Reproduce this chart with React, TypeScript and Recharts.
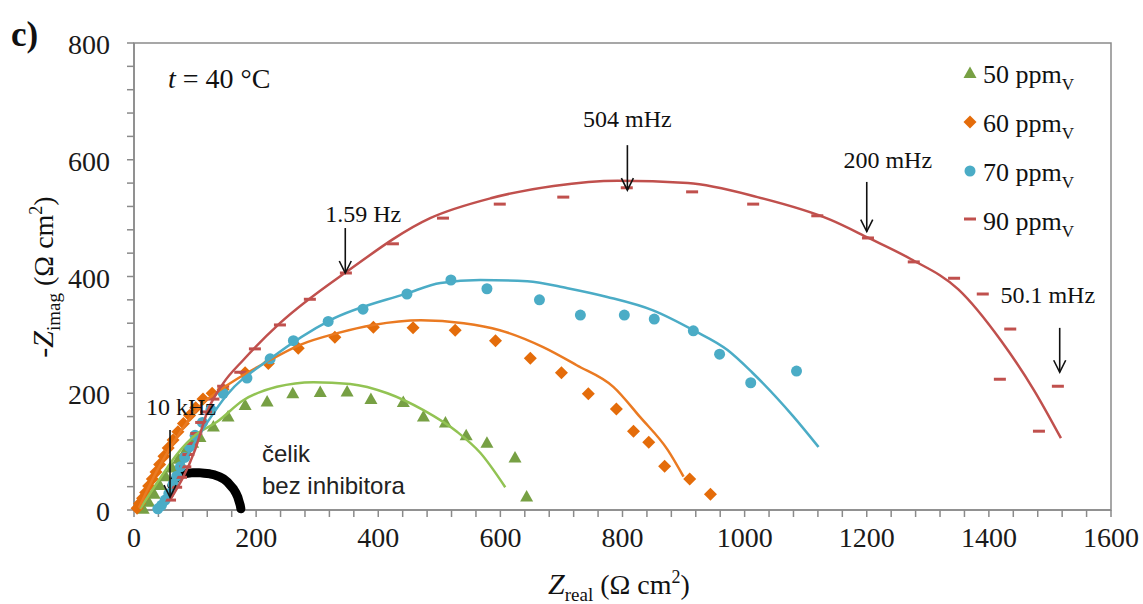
import React from 'react';
import { ScatterChart, Scatter, XAxis, YAxis, ReferenceArea, ReferenceLine } from 'recharts';

// tick labels
const xTickLabels = [0, 200, 400, 600, 800, 1000, 1200, 1400, 1600];
const yTickLabels = [0, 200, 400, 600, 800];

// measured points [Zreal, -Zimag]
const ppm50Points = [
  [15, 2], [24, 14], [33, 28], [42, 43], [52, 58], [62, 73], [73, 88], [85, 103], [96, 115], [108, 125],
  [130, 143], [154, 160], [182, 180], [218, 186], [260, 200], [305, 202], [349, 203], [388, 190], [441, 185],
  [474, 160], [510, 150], [544, 128], [578, 115], [624, 90], [643, 23],
];
const ppm60Points = [
  [5, 3], [9, 11], [14, 20], [19, 30], [24, 41], [30, 53], [36, 65], [42, 78], [49, 92], [56, 106], [64, 120],
  [72, 134], [81, 148], [91, 162], [101, 175], [113, 190], [128, 200], [146, 207], [182, 235], [220, 251],
  [269, 277], [329, 296], [392, 313], [457, 312], [526, 308], [592, 290], [649, 260], [700, 235], [744, 199],
  [790, 173], [818, 135], [843, 116], [869, 75], [910, 53], [944, 27],
];
const ppm70Points = [
  [39, 2], [45, 8], [51, 17], [57, 28], [64, 44], [70, 58], [76, 74], [83, 90], [91, 108], [100, 128],
  [112, 150], [126, 172], [146, 200], [185, 226], [223, 259], [261, 290], [318, 323], [375, 344], [447, 370],
  [519, 394], [578, 379], [664, 360], [731, 334], [803, 334], [852, 327], [916, 307], [959, 267], [1010, 218],
  [1085, 238],
];
const ppm90Points = [
  [59, 17], [69, 39], [77, 56], [84, 74], [89, 95], [95, 114], [102, 131], [110, 150], [118, 168], [130, 190],
  [146, 212], [174, 236], [198, 276], [239, 317], [288, 361], [347, 406], [424, 456], [506, 500], [599, 524],
  [703, 536], [807, 552], [914, 545], [1014, 524], [1119, 504], [1202, 466], [1277, 425], [1343, 397],
  [1390, 370], [1435, 310], [1418, 224], [1513, 212], [1482, 135],
];
const steelPoints = [
  [62, 42], [65, 49], [69, 55], [74, 59], [80, 62], [88, 63], [97, 64], [106, 64], [115, 63],
  [124, 62], [132, 60], [140, 57], [147, 53], [153, 48], [158, 42], [163, 36], [167, 29], [170, 22],
  [172, 15], [174, 8], [175, 2],
];

// fitted curves
const ppm50Fit = [
  [10, 2], [40, 50], [70, 95], [100, 128], [136, 151], [179, 188], [234, 211], [294, 219], [354, 216],
  [415, 200], [474, 171], [529, 134], [567, 98], [608, 39],
];
const ppm60Fit = [
  [8, 4], [40, 72], [80, 140], [110, 180], [146, 209], [218, 254], [272, 283], [333, 303], [392, 317],
  [470, 325], [540, 320], [599, 308], [670, 279], [725, 248], [785, 211], [829, 159], [874, 103], [900, 57],
];
const ppm70Fit = [
  [43, 2], [80, 80], [120, 150], [152, 197], [223, 259], [321, 325], [447, 371], [502, 389], [567, 394],
  [644, 392], [710, 380], [775, 365], [850, 342], [916, 308], [972, 274], [1012, 236], [1080, 160], [1121, 108],
];
const ppm90Fit = [
  [59, 17], [100, 103], [121, 171], [146, 217], [179, 257], [239, 320], [348, 408], [485, 500], [584, 534],
  [687, 555], [792, 564], [907, 560], [1021, 536], [1141, 497], [1203, 466], [1272, 430], [1350, 378],
  [1420, 290], [1474, 205], [1518, 123],
];

// frequency markers: label, Zreal, arrow from -> to
const freqLabels = ['10 kHz', '1.59 Hz', '504 mHz', '200 mHz', '50.1 mHz'];
const freqX = [59, 346, 808, 1200, 1516];
const freqFrom = [137, 483, 625, 562, 312];
const freqTo = [22, 406, 548, 477, 236];
const freqLabelShift = [[11, -15], [18, -6], [0, -18], [21, -14], [-12, -25]];

const legendNames = ['50 ppm', '60 ppm', '70 ppm', '90 ppm'];

const toXY = (arr: number[][]) => arr.map(([x, y]) => ({ x, y }));

const SERIF = "'Liberation Serif', 'Times New Roman', serif";
const SANS = "'Liberation Sans', Arial, sans-serif";

const C50 = '#77a044';
const C50L = '#92c353';
const C60 = '#e46c0a';
const C60L = '#ea7a22';
const C70 = '#4bacc6';
const C90 = '#c0504d';
const AXIS = '#8a8a8a';

const Triangle = ({ cx, cy, color = C50 }: any) => (
  <path d={`M${cx},${cy - 6.5} L${cx + 6.5},${cy + 5} L${cx - 6.5},${cy + 5} Z`} fill={color} />
);
const Diamond = ({ cx, cy }: any) => (
  <path d={`M${cx},${cy - 6.5} L${cx + 6.5},${cy} L${cx},${cy + 6.5} L${cx - 6.5},${cy} Z`} fill={C60} />
);
const Dot = ({ cx, cy }: any) => <circle cx={cx} cy={cy} r={5.5} fill={C70} />;
const Dash = ({ cx, cy }: any) => <rect x={cx - 6} y={cy - 1.5} width={12} height={3} fill={C90} />;
const NoShape = () => <g />;

const XTick = ({ x, y, payload }: any) =>
  payload.value % 200 === 0 ? (
    <text x={x} y={y + 30} textAnchor="middle" fontFamily={SERIF} fontSize={28} fill="#1a1a1a">
      {payload.value}
    </text>
  ) : (
    <g />
  );

const YTick = ({ x, y, payload }: any) =>
  payload.value % 200 === 0 ? (
    <text x={x} y={y} dy="0.4em" textAnchor="end" fontFamily={SERIF} fontSize={28} fill="#1a1a1a">
      {payload.value}
    </text>
  ) : (
    <g />
  );

const arrowShape = (i: number) => (props: any) => {
  const { x1, y1, x2, y2 } = props;
  const [dx, dy] = freqLabelShift[i];
  return (
    <g>
      <line x1={x1} y1={y1} x2={x2} y2={y2} stroke="#111" strokeWidth={1.6} />
      <path d={`M${x2 - 6},${y2 - 12} L${x2},${y2} L${x2 + 6},${y2 - 12}`} fill="none" stroke="#111" strokeWidth={1.6} />
      <text x={x1 + dx} y={y1 + dy} textAnchor="middle" fontFamily={SERIF} fontSize={24} fill="#111">
        {freqLabels[i]}
      </text>
    </g>
  );
};

const minorStep = 40;
const xTicks = Array.from({ length: xTickLabels[xTickLabels.length - 1] / minorStep + 1 }, (_, i) => i * minorStep);
const yTicks = Array.from({ length: yTickLabels[yTickLabels.length - 1] / minorStep + 1 }, (_, i) => i * minorStep);

export default function App() {
  const legendShapes = [
    <Triangle cx={970} cy={73} />,
    <Diamond cx={970} cy={122} />,
    <Dot cx={970} cy={171} />,
    <Dash cx={970} cy={219} />,
  ];
  return (
    <div style={{ position: 'absolute', left: 0, top: 0, width: 1143, height: 604, background: '#fff' }}>
      <ScatterChart width={1143} height={604} margin={{ top: 43, right: 32, bottom: 0, left: 0 }}>
        <XAxis
          type="number"
          dataKey="x"
          domain={[0, 1600]}
          ticks={xTicks}
          interval={0}
          height={94}
          tickSize={7}
          tickMargin={0}
          stroke={AXIS}
          strokeWidth={1.5}
          tick={<XTick />}
        />
        <YAxis
          type="number"
          dataKey="y"
          domain={[0, 800]}
          ticks={yTicks}
          interval={0}
          width={134}
          tickSize={7}
          tickMargin={17}
          stroke={AXIS}
          strokeWidth={1.5}
          tick={<YTick />}
        />
        <ReferenceArea x1={0} x2={1600} y1={0} y2={800} fill="none" stroke={AXIS} strokeWidth={1.5} />

        <Scatter data={toXY(steelPoints)} shape={NoShape} line={{ stroke: '#000', strokeWidth: 9, strokeLinecap: 'round', strokeLinejoin: 'round' }} isAnimationActive={false} />

        <Scatter data={toXY(ppm50Points)} shape={<Triangle />} isAnimationActive={false} />
        <Scatter data={toXY(ppm60Points)} shape={<Diamond />} isAnimationActive={false} />
        <Scatter data={toXY(ppm70Points)} shape={<Dot />} isAnimationActive={false} />
        <Scatter data={toXY(ppm90Points)} shape={<Dash />} isAnimationActive={false} />

        <Scatter data={toXY(ppm50Fit)} shape={NoShape} line={{ stroke: C50L, strokeWidth: 2.5 }} lineJointType="monotoneX" isAnimationActive={false} />
        <Scatter data={toXY(ppm60Fit)} shape={NoShape} line={{ stroke: C60L, strokeWidth: 2.5 }} lineJointType="monotoneX" isAnimationActive={false} />
        <Scatter data={toXY(ppm70Fit)} shape={NoShape} line={{ stroke: C70, strokeWidth: 2.5 }} lineJointType="monotoneX" isAnimationActive={false} />
        <Scatter data={toXY(ppm90Fit)} shape={NoShape} line={{ stroke: C90, strokeWidth: 2.5 }} lineJointType="monotoneX" isAnimationActive={false} />

        {freqLabels.map((l, i) => (
          <ReferenceLine
            key={l}
            zIndex={2000}
            segment={[{ x: freqX[i], y: freqFrom[i] }, { x: freqX[i], y: freqTo[i] }]}
            shape={arrowShape(i)}
          />
        ))}
      </ScatterChart>

      <svg width={1143} height={604} style={{ position: 'absolute', left: 0, top: 0, pointerEvents: 'none' }}>
        <text x={11} y={46} fontFamily={SERIF} fontSize={35} fontWeight="bold" fill="#111">c)</text>
        <text x={168} y={88} fontFamily={SERIF} fontSize={28} fill="#111">
          <tspan fontStyle="italic">t</tspan> = 40 °C
        </text>

        {legendNames.map((n, i) => (
          <g key={n}>
            {legendShapes[i]}
            <text x={983} y={83 + i * 49} fontFamily={SERIF} fontSize={26} fill="#111">
              {n}
              <tspan dy={7} fontSize={17}>V</tspan>
            </text>
          </g>
        ))}

        <text x={262} y={462} fontFamily={SANS} fontSize={24} fill="#222">čelik</text>
        <text x={262} y={494} fontFamily={SANS} fontSize={24} fill="#222">bez inhibitora</text>

        <text x={548} y={594} fontFamily={SERIF} fontSize={30} fill="#111">
          <tspan fontStyle="italic">Z</tspan>
          <tspan dy={7} fontSize={19}>real</tspan>
          <tspan dy={-7} fontSize={28}> (Ω cm</tspan>
          <tspan dy={-11} fontSize={18}>2</tspan>
          <tspan dy={11} fontSize={28}>)</tspan>
        </text>

        <text transform="translate(53,277) rotate(-90)" textAnchor="middle" fontFamily={SERIF} fontSize={30} fill="#111">
          <tspan fontStyle="italic">-Z</tspan>
          <tspan dy={7} fontSize={19}>imag</tspan>
          <tspan dy={-7} fontSize={28}> (Ω cm</tspan>
          <tspan dy={-11} fontSize={18}>2</tspan>
          <tspan dy={11} fontSize={28}>)</tspan>
        </text>
      </svg>
    </div>
  );
}
